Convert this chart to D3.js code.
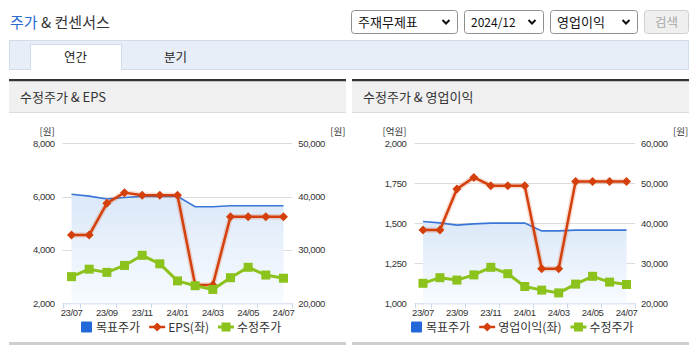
<!DOCTYPE html>
<html><head><meta charset="utf-8">
<script src="https://cdn.jsdelivr.net/npm/d3@7"></script>
<style>
html,body{margin:0;padding:0;background:#fff;}
svg{display:block;font-family:"Noto Sans CJK KR","Noto Sans",sans-serif;}
</style></head>
<body>
<svg id="c" width="695" height="349"></svg>
<script>
// ---------- data ----------
const months = ["23/07","23/08","23/09","23/10","23/11","23/12","24/01","24/02","24/03","24/04","24/05","24/06","24/07"];
const xTickLabels = ["23/07","23/09","23/11","24/01","24/03","24/05","24/07"];
const targetPrice = [40450,40100,39550,39850,40050,40050,40050,38100,38100,38300,38300,38300,38300];
const adjPrice = [25000,26400,25800,27100,29000,27400,24200,23300,22600,24800,26750,25300,24700];
const eps = [4560,4560,5750,6150,6050,6050,6050,2690,2690,5250,5250,5250,5250];
const opProfit = [1458,1458,1714,1787,1735,1735,1735,1216,1216,1762,1762,1762,1762];
const epsTicks = [2000,4000,6000,8000];
const epsPriceTicks = [20000,30000,40000,50000];
const opTicks = [1000,1250,1500,1750,2000];
const opPriceTicks = [20000,30000,40000,50000,60000];

const svg = d3.select("#c");
const fmt = d3.format(",");
const RED = "#d4400c", GREEN = "#8cc21c", BLUE = "#3a76d8", LBLUE = "#2368d9";

// gradient
const defs = svg.append("defs");
const g1 = defs.append("linearGradient").attr("id","areaGrad").attr("x1",0).attr("y1",0).attr("x2",0).attr("y2",1);
g1.append("stop").attr("offset","0%").attr("stop-color","#dbe8f8");
g1.append("stop").attr("offset","100%").attr("stop-color","#f8fbff");

// ---------- page chrome ----------
const title = svg.append("text").attr("x",10).attr("y",27.5).attr("font-size",15).attr("fill","#333");
title.append("tspan").attr("fill","#2a6bd0").text("주가");
title.append("tspan").text(" & 컨센서스");

function selectBox(x,w,label,fs){
  svg.append("rect").attr("x",x+0.5).attr("y",10.5).attr("width",w).attr("height",23).attr("rx",3)
    .attr("fill","#fff").attr("stroke","#8f8f8f");
  svg.append("text").attr("x",x+7).attr("y",26.5).attr("font-size",fs).attr("fill","#111").text(label);
  const cx = x+w-11;
  svg.append("path").attr("d",`M${cx-3.5},${20} L${cx},${23.5} L${cx+3.5},${20}`)
    .attr("fill","none").attr("stroke","#111").attr("stroke-width",2);
}
selectBox(351,106,"주재무제표",13);
selectBox(464,79,"2024/12",12);
selectBox(550,87,"영업이익",13);
svg.append("rect").attr("x",644.5).attr("y",10.5).attr("width",44).attr("height",23).attr("rx",3)
  .attr("fill","#efefef").attr("stroke","#d0d0d0");
svg.append("text").attr("x",666.5).attr("y",26.5).attr("font-size",12.5).attr("text-anchor","middle").attr("fill","#a8a8a8").text("검색");

// tab bar
svg.append("rect").attr("x",9.5).attr("y",40.5).attr("width",679).attr("height",29).attr("fill","#e8eef8").attr("stroke","#d3dcea");
svg.append("path").attr("d","M30.5,70 V44.5 H121.5 V70").attr("fill","#fff").attr("stroke","#d3dcea");
svg.append("rect").attr("x",31).attr("y",45).attr("width",90).attr("height",25).attr("fill","#fff");
svg.append("text").attr("x",75.5).attr("y",62).attr("font-size",12.5).attr("text-anchor","middle").attr("fill","#222").text("연간");
svg.append("text").attr("x",175.5).attr("y",62).attr("font-size",12.5).attr("text-anchor","middle").attr("fill","#222").text("분기");

// ---------- chart panel ----------
function panel(cfg){
  const {x0,x1,title:t} = cfg;
  svg.append("rect").attr("x",x0).attr("y",79).attr("width",x1-x0).attr("height",2.5).attr("fill","#333");
  svg.append("rect").attr("x",x0).attr("y",81.5).attr("width",x1-x0).attr("height",30.5).attr("fill","#f0f0f0");
  svg.append("rect").attr("x",x0).attr("y",112).attr("width",x1-x0).attr("height",1).attr("fill","#dcdcdc");
  svg.append("rect").attr("x",x0).attr("y",342).attr("width",x1-x0).attr("height",3).attr("fill","#cfcfcf");
  svg.append("text").attr("x",x0+11).attr("y",102).attr("font-size",13).attr("fill","#333").text(t);
}

function chart(cfg){
  const {px0,px1,leftData,leftDomain,leftTicks,rightDomain,rightTicks,leftUnit,rightUnit,legendName,legendX} = cfg;
  const yTop = 143.3, yBot = 303.3;
  const x = d3.scaleBand().domain(months).range([px0,px1]);
  const xc = d => x(d)+x.bandwidth()/2;
  const yL = d3.scaleLinear().domain(leftDomain).range([yBot,yTop]);
  const yR = d3.scaleLinear().domain(rightDomain).range([yBot,yTop]);
  const g = svg.append("g");
  // grid
  g.selectAll(".grid").data(leftTicks.slice(1)).join("line")
    .attr("x1",px0).attr("x2",px1).attr("y1",d=>Math.round(yL(d))+0.5).attr("y2",d=>Math.round(yL(d))+0.5)
    .attr("stroke","#dcdcdc");
  // left labels
  g.selectAll(".ll").data(leftTicks).join("text")
    .attr("x",px0-8).attr("y",d=>yL(d)+3.5).attr("text-anchor","end")
    .attr("font-size",9.5).attr("letter-spacing",-0.4).attr("fill","#333").attr("font-family","Liberation Sans, Arial, sans-serif")
    .text(d=>fmt(d));
  g.selectAll(".rl").data(rightTicks).join("text")
    .attr("x",px1+6).attr("y",d=>yR(d)+3.5).attr("text-anchor","start")
    .attr("font-size",9.5).attr("letter-spacing",-0.4).attr("fill","#333").attr("font-family","Liberation Sans, Arial, sans-serif")
    .text(d=>fmt(d));
  g.append("text").attr("x",px0-8).attr("y",135).attr("text-anchor","end").attr("font-size",9.5).attr("fill","#333").text(leftUnit);
  g.append("text").attr("x",px1+38).attr("y",135).attr("text-anchor","start").attr("font-size",9.5).attr("fill","#333").text(rightUnit);
  // x axis
  g.append("line").attr("x1",px0).attr("x2",px1).attr("y1",yBot+0.5).attr("y2",yBot+0.5).attr("stroke","#ccd6eb");
  const tickPos = [0,1,3,5,7,9,11].map(i=>x(months[i])).concat([px1]);
  g.selectAll(".tk").data(tickPos).join("line")
    .attr("x1",d=>Math.round(d)+0.5).attr("x2",d=>Math.round(d)+0.5).attr("y1",yBot).attr("y2",yBot+5).attr("stroke","#ccd6eb");
  g.selectAll(".xl").data(xTickLabels).join("text")
    .attr("x",d=>xc(d)).attr("y",316).attr("text-anchor","middle")
    .attr("font-size",9.5).attr("letter-spacing",-0.4).attr("fill","#333").attr("font-family","Liberation Sans, Arial, sans-serif")
    .text(d=>d);
  // area + target line
  const area = d3.area().x((d,i)=>xc(months[i])).y0(yBot).y1(d=>yR(d));
  g.append("path").datum(targetPrice).attr("d",area).attr("fill","url(#areaGrad)");
  const lineT = d3.line().x((d,i)=>xc(months[i])).y(d=>yR(d));
  g.append("path").datum(targetPrice).attr("d",lineT).attr("fill","none").attr("stroke",BLUE).attr("stroke-width",1.6);
  // red series (left axis)
  const lineL = d3.line().x((d,i)=>xc(months[i])).y(d=>yL(d));
  g.append("path").datum(leftData).attr("d",lineL).attr("fill","none").attr("stroke",RED).attr("stroke-opacity",0.18).attr("stroke-width",5.5).attr("stroke-linejoin","round");
  g.append("path").datum(leftData).attr("d",lineL).attr("fill","none").attr("stroke",RED).attr("stroke-width",2.5).attr("stroke-linejoin","round");
  g.selectAll(".dm").data(leftData).join("path")
    .attr("d",(d,i)=>{const cx=xc(months[i]),cy=yL(d),r=4.5;return `M${cx},${cy-r}L${cx+r},${cy}L${cx},${cy+r}L${cx-r},${cy}Z`;})
    .attr("fill",RED);
  // green series (right axis)
  g.append("path").datum(adjPrice).attr("d",lineT).attr("fill","none").attr("stroke",GREEN).attr("stroke-width",3).attr("stroke-linejoin","round");
  g.selectAll(".sq").data(adjPrice).join("rect")
    .attr("x",(d,i)=>xc(months[i])-4.5).attr("y",d=>yR(d)-4.5).attr("width",9).attr("height",9).attr("fill",GREEN);
  // legend
  const ly = 327;
  let lx = legendX;
  g.append("rect").attr("x",lx).attr("y",ly-5.5).attr("width",11).attr("height",11).attr("rx",1).attr("fill",LBLUE);
  const t1 = g.append("text").attr("x",lx+15).attr("y",ly+4.5).attr("font-size",12).attr("fill","#333").text("목표주가");
  lx = lx+15+t1.node().getComputedTextLength()+9;
  g.append("line").attr("x1",lx).attr("x2",lx+16).attr("y1",ly).attr("y2",ly).attr("stroke",RED).attr("stroke-width",2.5);
  g.append("path").attr("d",`M${lx+8},${ly-4.5}L${lx+12.5},${ly}L${lx+8},${ly+4.5}L${lx+3.5},${ly}Z`).attr("fill",RED);
  const t2 = g.append("text").attr("x",lx+19).attr("y",ly+4.5).attr("font-size",12).attr("fill","#333").text(legendName);
  lx = lx+19+t2.node().getComputedTextLength()+9;
  g.append("line").attr("x1",lx).attr("x2",lx+16).attr("y1",ly).attr("y2",ly).attr("stroke",GREEN).attr("stroke-width",3);
  g.append("rect").attr("x",lx+3.5).attr("y",ly-4.5).attr("width",9).attr("height",9).attr("fill",GREEN);
  g.append("text").attr("x",lx+19).attr("y",ly+4.5).attr("font-size",12).attr("fill","#333").text("수정주가");
}

panel({x0:9,x1:346,title:"수정주가 & EPS"});
panel({x0:352,x1:689,title:"수정주가 & 영업이익"});

chart({px0:62.7,px1:292.3,leftData:eps,leftDomain:[2000,8000],leftTicks:epsTicks,
  rightDomain:[20000,50000],rightTicks:epsPriceTicks,leftUnit:"[원]",rightUnit:"[원]",legendName:"EPS(좌)",legendX:81});
chart({px0:414.5,px1:635,leftData:opProfit,leftDomain:[1000,2000],leftTicks:opTicks,
  rightDomain:[20000,60000],rightTicks:opPriceTicks,leftUnit:"[억원]",rightUnit:"[원]",legendName:"영업이익(좌)",legendX:411});
</script>
</body></html>
